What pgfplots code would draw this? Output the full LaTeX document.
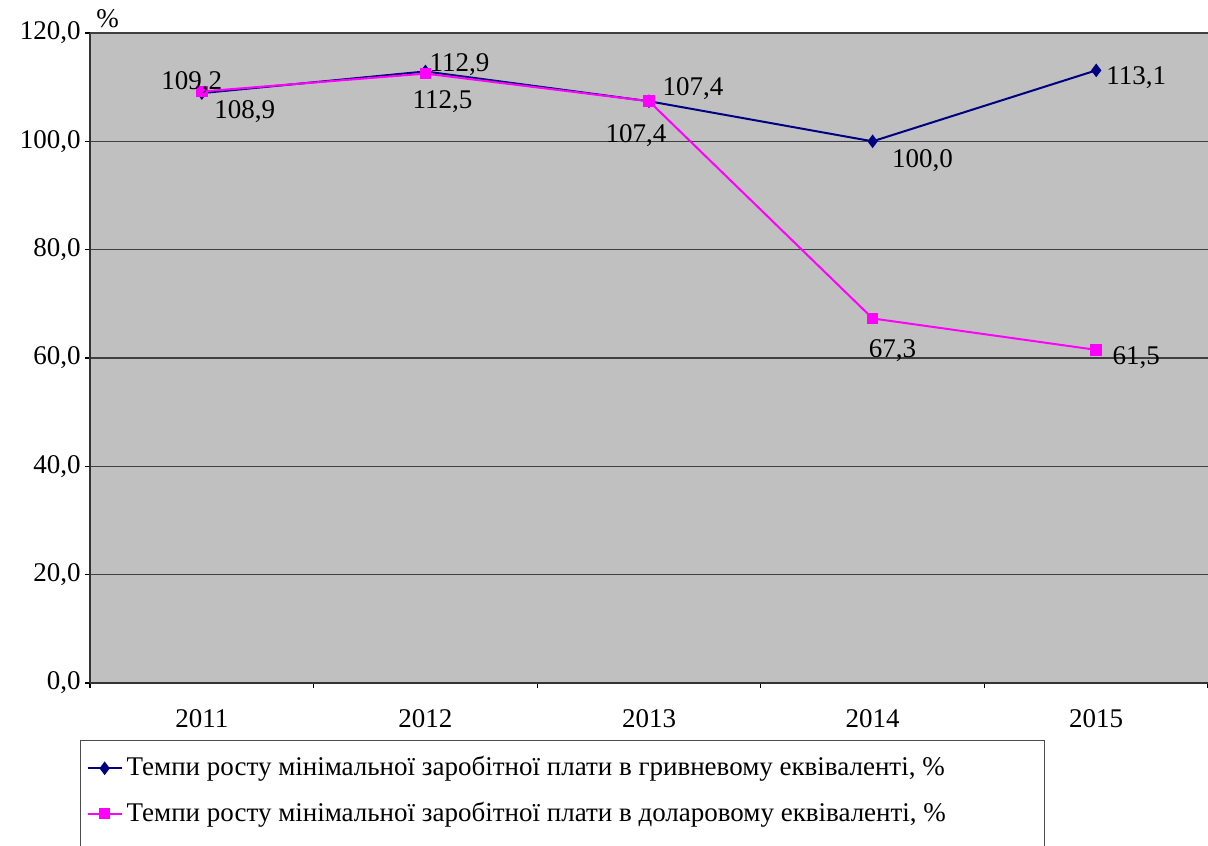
\documentclass[border=0pt]{standalone}
\usepackage{fontspec}
\setmainfont{Liberation Serif}
\usepackage{pgfplots}
\usetikzlibrary{calc}
\pgfplotsset{compat=1.18}
\definecolor{uahnavy}{HTML}{000080}
\definecolor{uahmag}{HTML}{FF00FF}
\definecolor{plotgray}{HTML}{C0C0C0}

% x: category centre, y: value, dx/dy: label offset in pt
\pgfplotstableread{
x   y     dx    dy
0.5 108.9 21.5  -9
1.5 112.9 17    3.5
2.5 107.4 22    6.5
3.5 100.0 25    -9.5
4.5 113.1 20    -3.5
}\grn
\pgfplotstableread{
x   y     dx    dy
0.5 109.2 -5    4.5
1.5 112.5 8.5   -14
2.5 107.4 -6.5  -17
3.5 67.3  10    -16
4.5 61.5  20    -4
}\usd

\begin{document}
\fontsize{13.5}{15.5}\selectfont
\begin{tikzpicture}
\begin{axis}[
    name=ax,
    width=559pt, height=325pt, scale only axis,
    xmin=0, xmax=5, ymin=0, ymax=120,
    axis background/.style={fill=plotgray},
    axis x line*=bottom, axis y line*=left,
    axis line style={black!80, line width=0.6pt},
    xtick={0,1,2,3,4,5}, x tick label as interval,
    xticklabels={2011,2012,2013,2014,2015},
    ytick={0,20,...,120},
    ymajorgrids, major grid style={black!75, line width=0.6pt},
    tick align=outside, major tick length=2.5pt,
    tick style={black, line width=0.6pt},
    xticklabel style={yshift=-6pt},
    yticklabel style={xshift=2.5pt},
    /pgf/number format/.cd, use comma, fixed, fixed zerofill, precision=1, assume math mode=true,
    /pgfplots/.cd,
    every axis plot/.append style={line width=1pt},
    nodes near coords,
    nodes near coords style={anchor=center, xshift=\dx pt, yshift=\dy pt, black, font=\fontsize{13.5}{15.5}\selectfont},
    visualization depends on={\thisrow{dx} \as \dx},
    visualization depends on={\thisrow{dy} \as \dy},
    legend style={at={(axis description cs:0,0)}, anchor=north west,
        xshift=-5pt, yshift=-28.5pt, draw=black!70, line width=0.6pt,
        cells={anchor=west}, row sep=7pt, inner ysep=6pt,
        font=\fontsize{13.5}{15.5}\selectfont},
    legend cell align=left,
]
\addplot[color=uahnavy, mark=diamond*, mark size=2.6pt] table[x=x, y=y] {\grn};
\addlegendentry{Темпи росту мінімальної заробітної плати в гривневому еквіваленті, \%}
\addplot[color=uahmag, mark=square*, mark size=2.4pt] table[x=x, y=y] {\usd};
\addlegendentry{Темпи росту мінімальної заробітної плати в доларовому еквіваленті, \%}
\addlegendimage{empty legend}
\addlegendentry{\hspace*{454pt}}
\end{axis}
\node[anchor=south west, inner sep=1pt] at ($(ax.north west)+(2pt,1.5pt)$) {\%};
\pgfresetboundingbox
\path[use as bounding box] ($(ax.south west)+(-45pt,-81pt)$) rectangle ($(ax.north east)+(0,16.5pt)$);
\end{tikzpicture}
\end{document}
